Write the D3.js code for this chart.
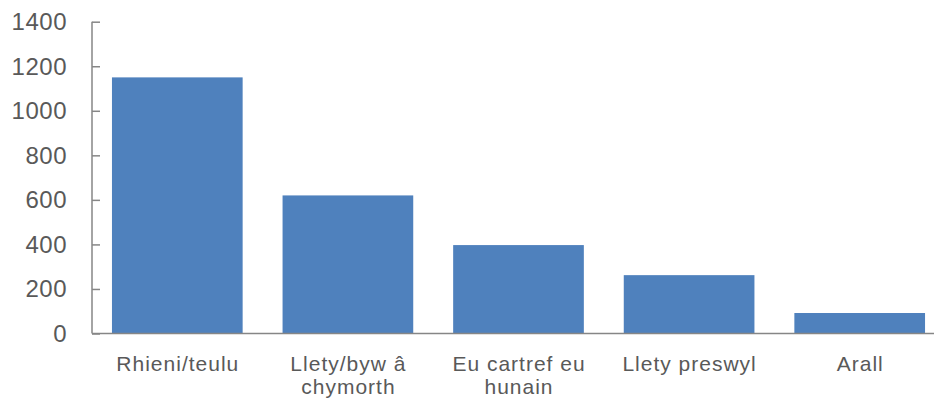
<!DOCTYPE html>
<html>
<head>
<meta charset="utf-8">
<script src="https://cdn.jsdelivr.net/npm/d3@7"></script>
<style>
  html, body { margin: 0; padding: 0; background: #fff; }
  svg { display: block; }
  text { font-family: "Liberation Sans", Arial, sans-serif; fill: #595959; }
</style>
</head>
<body>
<svg id="chart" width="934" height="403"></svg>
<script>
const categories = [["Rhieni/teulu"], ["Llety/byw â", "chymorth"], ["Eu cartref eu", "hunain"], ["Llety preswyl"], ["Arall"]];
const values = [1150, 620, 397, 262, 92];
const yTicks = [0, 200, 400, 600, 800, 1000, 1200, 1400];

const svg = d3.select("#chart");
const W = 934, H = 403;
const m = { left: 92, top: 21.7, bottom: 69.5 };
const plotRight = 945;

const keys = categories.map(c => c.join(" "));
const x = d3.scaleBand().domain(keys).range([m.left, plotRight]).paddingInner(0.234).paddingOuter(0.117);
const y = d3.scaleLinear().domain([0, 1400]).range([H - m.bottom, m.top]);

// bars
svg.append("g").selectAll("rect").data(values).join("rect")
  .attr("x", (d, i) => x(keys[i]))
  .attr("y", d => y(d))
  .attr("width", x.bandwidth())
  .attr("height", d => y(0) - y(d))
  .attr("fill", "#4F81BD");

// y axis
const yAxis = d3.axisRight(y).tickValues(yTicks).tickSize(8).tickFormat("");
const gy = svg.append("g").attr("transform", `translate(${m.left},0)`).call(yAxis);
gy.select(".domain").remove();
gy.selectAll(".tick line").attr("stroke", "#868686").attr("stroke-width", 1.5);
gy.append("line").attr("x1", 0).attr("x2", 0).attr("y1", y(1400)).attr("y2", y(0))
  .attr("stroke", "#868686").attr("stroke-width", 1.5);

svg.append("g").selectAll("text").data(yTicks).join("text")
  .attr("x", 67).attr("y", d => y(d))
  .attr("text-anchor", "end").attr("dominant-baseline", "central")
  .style("font-size", "24px")
  .style("letter-spacing", "0.5px")
  .text(d => d);

// x axis
svg.append("line").attr("x1", m.left).attr("x2", W).attr("y1", y(0)).attr("y2", y(0))
  .attr("stroke", "#868686").attr("stroke-width", 1.5);

// category labels
const lab = svg.append("g").selectAll("text").data(categories).join("text")
  .attr("text-anchor", "middle")
  .attr("transform", (d, i) => `translate(${x(keys[i]) + x.bandwidth() / 2 + 0.5},371)`)
  .style("font-size", "21px")
  .style("letter-spacing", "1px");
lab.selectAll("tspan").data(d => d).join("tspan")
  .attr("x", 0).attr("dy", (d, i) => i === 0 ? 0 : 23)
  .text(d => d);
</script>
</body>
</html>
